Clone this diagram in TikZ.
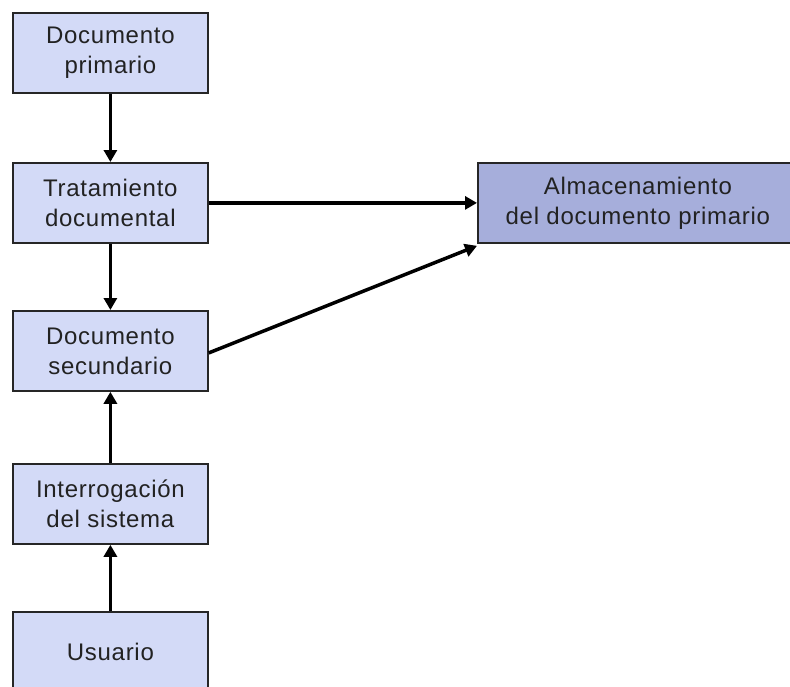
\documentclass[tikz,border=0pt]{standalone}
\usepackage{fontspec}
\setmainfont[LetterSpace=3]{Liberation Sans}
\usetikzlibrary{arrows.meta}
\definecolor{boxfill}{HTML}{D3DAF7}
\definecolor{boxfilldark}{HTML}{A6AEDB}
\definecolor{txt}{HTML}{222222}
\begin{document}
\begin{tikzpicture}[x=1pt,y=-1pt,
  box/.style={draw=black!85, line width=1.8pt, fill=boxfill, text=txt, minimum width=195pt, minimum height=80pt, align=center, inner sep=0pt, font=\fontsize{24}{30}\selectfont, anchor=north west},
  darkbox/.style={box, fill=boxfilldark, minimum width=320pt},
  conn/.style={line width=3.5pt, -{Triangle[length=12pt,width=13pt]}}]
\useasboundingbox (0,0) rectangle (790,686);
\node[box] (dp) at (12,12) {Documento\\primario};
\node[box] (td) at (12,162) {Tratamiento\\documental};
\node[box] (ds) at (12,310) {Documento\\secundario};
\node[box] (is) at (12,463) {Interrogación\\del sistema};
\node[box] (us) at (12,611) {Usuario};
\node[darkbox] (al) at (477,162) {Almacenamiento\\del documento primario};
\draw[conn] (dp.south) -- (td.north);
\draw[conn] (td.south) -- (ds.north);
\draw[conn] (us.north) -- (is.south);
\draw[conn] (is.north) -- (ds.south);
\draw[conn] (td.east) -- (td.east -| al.west);
\draw[conn] ([yshift=-2pt]ds.east) -- ([yshift=-2pt]al.south west);
\end{tikzpicture}
\end{document}
